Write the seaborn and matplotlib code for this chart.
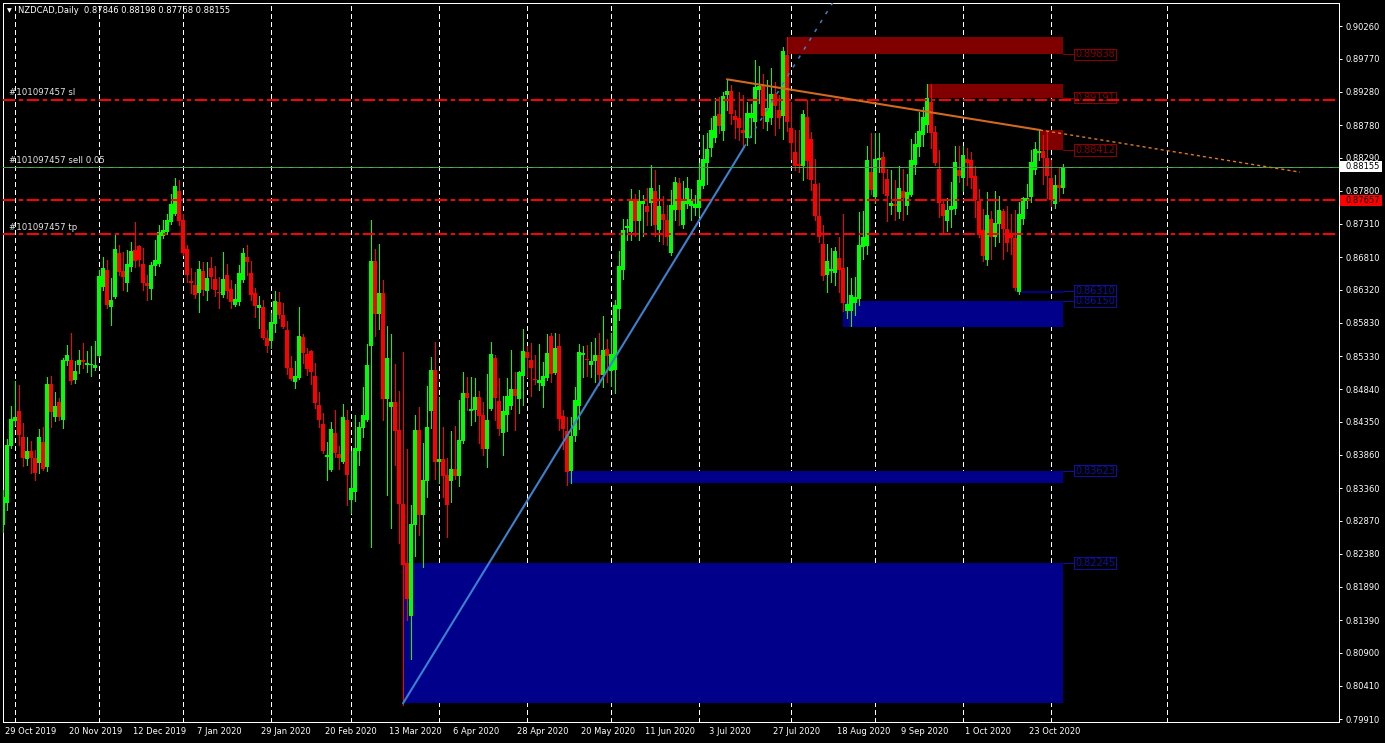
import numpy as np
import pandas as pd
import matplotlib
matplotlib.use("Agg")
import matplotlib.pyplot as plt
import matplotlib.transforms as mtransforms
from matplotlib.patches import Rectangle
import seaborn as sns

# ---------------- data ----------------
header_text = "NZDCAD,Daily  0.87846 0.88198 0.87768 0.88155"

opens = [0.8281,0.8314,0.8399,0.8436,0.8451,0.8413,0.8380,0.8391,0.8381,0.8373,
0.8405,0.8367,0.8491,0.8442,0.8465,0.8438,0.8526,0.8527,0.8497,0.8520,
0.8528,0.8520,0.8520,0.8515,0.8533,0.8636,0.8662,0.8606,0.8621,0.8687,
0.8660,0.8643,0.8666,0.8692,0.8698,0.8671,0.8642,0.8633,0.8668,0.8671,
0.8713,0.8719,0.8734,0.8745,0.8780,0.8737,0.8693,0.8645,0.8639,0.8627,
0.8660,0.8630,0.8665,0.8648,0.8629,0.8624,0.8654,0.8633,0.8609,0.8614,
0.8647,0.8681,0.8657,0.8627,0.8605,0.8606,0.8560,0.8556,0.8581,0.8614,
0.8595,0.8572,0.8515,0.8494,0.8500,0.8562,0.8536,0.8541,0.8503,0.8460,
0.8432,0.8382,0.8363,0.8418,0.8387,0.8375,0.8438,0.8319,0.8330,0.8391,
0.8426,0.8438,0.8548,0.8675,0.8596,0.8627,0.8469,0.8457,0.8465,0.8423,
0.8313,0.8224,0.8145,0.8281,0.8423,0.8296,0.8347,0.8451,0.8512,0.8375,
0.8380,0.8355,0.8347,0.8365,0.8354,0.8406,0.8478,0.8451,0.8453,0.8472,
0.8445,0.8394,0.8454,0.8530,0.8466,0.8418,0.8445,0.8459,0.8484,0.8469,
0.8503,0.8539,0.8527,0.8499,0.8493,0.8488,0.8500,0.8563,0.8508,0.8548,
0.8443,0.8421,0.8362,0.8414,0.8459,0.8535,0.8529,0.8520,0.8526,0.8535,
0.8505,0.8544,0.8511,0.8512,0.8603,0.8662,0.8724,0.8719,0.8766,0.8735,
0.8760,0.8758,0.8761,0.8780,0.8722,0.8746,0.8736,0.8687,0.8752,0.8792,
0.8729,0.8760,0.8757,0.8754,0.8754,0.8787,0.8821,0.8844,0.8859,0.8895,
0.8869,0.8923,0.8929,0.8892,0.8888,0.8871,0.8859,0.8889,0.8883,0.8930,
0.8937,0.8882,0.8888,0.8924,0.8901,0.8892,0.8983,0.8874,0.8838,0.8820,
0.8817,0.8890,0.8857,0.8790,0.8743,0.8700,0.8654,0.8660,0.8657,0.8679,
0.8664,0.8600,0.8600,0.8612,0.8618,0.8696,0.8697,0.8808,0.8771,0.8826,
0.8830,0.8798,0.8757,0.8760,0.8748,0.8780,0.8757,0.8774,0.8819,0.8845,
0.8863,0.8878,0.8912,0.8868,0.8813,0.8760,0.8735,0.8751,0.8753,0.8811,
0.8799,0.8827,0.8826,0.8802,0.8765,0.8721,0.8677,0.8738,0.8711,0.8730,
0.8750,0.8723,0.8717,0.8709,0.8629,0.8738,0.8765,0.8771,0.8811,0.8837,
0.8839,0.8829,0.8799,0.8760,0.8789,0.87846]

highs = [0.8333,0.8409,0.8459,0.8496,0.8490,0.8433,0.8412,0.8406,0.8393,0.8424,
0.8428,0.8502,0.8503,0.8480,0.8470,0.8531,0.8550,0.8568,0.8526,0.8542,
0.8553,0.8541,0.8548,0.8556,0.8662,0.8681,0.8677,0.8650,0.8717,0.8699,
0.8688,0.8692,0.8704,0.8733,0.8699,0.8695,0.8654,0.8674,0.8707,0.8729,
0.8736,0.8745,0.8775,0.8799,0.8796,0.8746,0.8699,0.8665,0.8659,0.8675,
0.8674,0.8674,0.8681,0.8668,0.8651,0.8688,0.8671,0.8647,0.8641,0.8669,
0.8695,0.8699,0.8675,0.8635,0.8623,0.8617,0.8572,0.8598,0.8630,0.8629,
0.8612,0.8586,0.8533,0.8526,0.8606,0.8566,0.8545,0.8542,0.8523,0.8480,
0.8448,0.8405,0.8435,0.8452,0.8399,0.8462,0.8453,0.8391,0.8445,0.8435,
0.8487,0.8551,0.8736,0.8693,0.8700,0.8647,0.8578,0.8566,0.8521,0.8481,
0.8539,0.8394,0.8311,0.8445,0.8457,0.8403,0.8488,0.8532,0.8554,0.8472,
0.8427,0.8381,0.8421,0.8429,0.8468,0.8509,0.8502,0.8502,0.8500,0.8481,
0.8465,0.8506,0.8554,0.8535,0.8500,0.8473,0.8500,0.8542,0.8509,0.8511,
0.8574,0.8548,0.8553,0.8535,0.8551,0.8524,0.8566,0.8568,0.8568,0.8566,
0.8453,0.8442,0.8442,0.8487,0.8551,0.8548,0.8550,0.8554,0.8560,0.8568,
0.8593,0.8559,0.8568,0.8617,0.8690,0.8738,0.8738,0.8783,0.8775,0.8781,
0.8774,0.8784,0.8819,0.8811,0.8789,0.8772,0.8759,0.8781,0.8800,0.8799,
0.8795,0.8800,0.8783,0.8774,0.8821,0.8864,0.8867,0.8889,0.8918,0.8920,
0.8928,0.8945,0.8938,0.8901,0.8928,0.8923,0.8912,0.8910,0.8975,0.8967,
0.8954,0.8945,0.8964,0.8942,0.8923,0.8995,0.9010,0.8912,0.8871,0.8871,
0.8901,0.8916,0.8868,0.8827,0.8792,0.8729,0.8700,0.8695,0.8696,0.8711,
0.8745,0.8666,0.8650,0.8651,0.8748,0.8750,0.8847,0.8866,0.8866,0.8866,
0.8838,0.8813,0.8811,0.8796,0.8817,0.8813,0.8805,0.8857,0.8866,0.8898,
0.8905,0.8939,0.8939,0.8877,0.8841,0.8768,0.8769,0.8793,0.8847,0.8847,
0.8847,0.8844,0.8838,0.8817,0.8783,0.8753,0.8778,0.8750,0.8780,0.8772,
0.8753,0.8757,0.8746,0.8751,0.8763,0.8771,0.8790,0.8841,0.8853,0.8871,
0.8863,0.8868,0.8826,0.8804,0.8814,0.88198]

lows = [0.8270,0.8303,0.8396,0.8430,0.8400,0.8369,0.8370,0.8359,0.8348,0.8359,
0.8363,0.8362,0.8427,0.8436,0.8438,0.8426,0.8520,0.8491,0.8493,0.8508,
0.8515,0.8509,0.8503,0.8512,0.8532,0.8632,0.8605,0.8580,0.8620,0.8654,
0.8632,0.8630,0.8660,0.8666,0.8668,0.8632,0.8617,0.8619,0.8654,0.8668,
0.8710,0.8715,0.8730,0.8744,0.8729,0.8684,0.8644,0.8627,0.8620,0.8599,
0.8624,0.8617,0.8635,0.8623,0.8605,0.8621,0.8620,0.8605,0.8608,0.8610,
0.8644,0.8654,0.8617,0.8592,0.8575,0.8558,0.8539,0.8545,0.8569,0.8590,
0.8575,0.8507,0.8497,0.8485,0.8499,0.8523,0.8505,0.8491,0.8456,0.8427,
0.8389,0.8348,0.8362,0.8383,0.8365,0.8374,0.8311,0.8299,0.8317,0.8370,
0.8412,0.8436,0.8248,0.8563,0.8573,0.8438,0.8326,0.8276,0.8370,0.8254,
0.8012,0.8139,0.8081,0.8235,0.8266,0.8218,0.8323,0.8426,0.8350,0.8344,
0.8323,0.8263,0.8315,0.8350,0.8339,0.8403,0.8453,0.8430,0.8436,0.8403,
0.8385,0.8367,0.8453,0.8438,0.8415,0.8385,0.8421,0.8454,0.8423,0.8448,
0.8460,0.8502,0.8474,0.8491,0.8482,0.8457,0.8497,0.8494,0.8506,0.8423,
0.8395,0.8341,0.8344,0.8406,0.8424,0.8502,0.8503,0.8502,0.8494,0.8490,
0.8487,0.8494,0.8488,0.8478,0.8587,0.8648,0.8706,0.8706,0.8712,0.8706,
0.8712,0.8729,0.8729,0.8712,0.8705,0.8701,0.8699,0.8684,0.8737,0.8729,
0.8724,0.8754,0.8737,0.8744,0.8743,0.8784,0.8790,0.8832,0.8853,0.8867,
0.8856,0.8901,0.8879,0.8859,0.8856,0.8844,0.8848,0.8860,0.8852,0.8911,
0.8874,0.8871,0.8879,0.8864,0.8874,0.8857,0.8869,0.8828,0.8811,0.8808,
0.8796,0.8799,0.8781,0.8736,0.8703,0.8647,0.8629,0.8644,0.8639,0.8629,
0.8600,0.8590,0.8578,0.8594,0.8609,0.8678,0.8686,0.8775,0.8762,0.8808,
0.8777,0.8735,0.8746,0.8737,0.8739,0.8736,0.8746,0.8772,0.8805,0.8832,
0.8847,0.8868,0.8844,0.8819,0.8741,0.8718,0.8720,0.8726,0.8746,0.8793,
0.8780,0.8789,0.8784,0.8741,0.8711,0.8675,0.8669,0.8678,0.8697,0.8704,
0.8678,0.8690,0.8686,0.8632,0.8626,0.8730,0.8754,0.8763,0.8805,0.8826,
0.8790,0.8769,0.8757,0.8754,0.8765,0.87768]

closes = [0.8323,0.8400,0.8439,0.8442,0.8415,0.8381,0.8391,0.8381,0.8359,0.8412,
0.8365,0.8491,0.8449,0.8459,0.8442,0.8528,0.8535,0.8496,0.8511,0.8528,
0.8524,0.8523,0.8521,0.8520,0.8653,0.8665,0.8609,0.8617,0.8693,0.8659,
0.8651,0.8671,0.8690,0.8675,0.8677,0.8642,0.8638,0.8669,0.8677,0.8718,
0.8721,0.8736,0.8760,0.8787,0.8735,0.8687,0.8654,0.8642,0.8624,0.8663,
0.8632,0.8650,0.8651,0.8632,0.8627,0.8648,0.8630,0.8614,0.8618,0.8657,
0.8687,0.8674,0.8624,0.8608,0.8609,0.8560,0.8548,0.8584,0.8615,0.8595,
0.8577,0.8515,0.8499,0.8503,0.8563,0.8538,0.8514,0.8509,0.8463,0.8438,
0.8391,0.8385,0.8424,0.8389,0.8381,0.8442,0.8356,0.8336,0.8396,0.8427,
0.8445,0.8520,0.8675,0.8596,0.8627,0.8469,0.8530,0.8465,0.8421,0.8312,
0.8222,0.8170,0.8282,0.8423,0.8296,0.8348,0.8427,0.8512,0.8375,0.8380,
0.8354,0.8311,0.8365,0.8354,0.8408,0.8478,0.8471,0.8454,0.8472,0.8444,
0.8394,0.8438,0.8536,0.8471,0.8424,0.8451,0.8473,0.8484,0.8473,0.8509,
0.8541,0.8530,0.8515,0.8497,0.8497,0.8503,0.8538,0.8506,0.8545,0.8439,
0.8424,0.8360,0.8414,0.8468,0.8539,0.8538,0.8527,0.8526,0.8535,0.8505,
0.8542,0.8533,0.8536,0.8609,0.8668,0.8721,0.8727,0.8766,0.8735,0.8765,
0.8764,0.8749,0.8784,0.8729,0.8757,0.8737,0.8711,0.8759,0.8793,0.8751,
0.8766,0.8784,0.8768,0.8760,0.8796,0.8827,0.8842,0.8871,0.8892,0.8876,
0.8922,0.8929,0.8894,0.8886,0.8874,0.8866,0.8896,0.8896,0.8935,0.8937,
0.8892,0.8904,0.8924,0.8906,0.8888,0.8989,0.8883,0.8852,0.8817,0.8817,
0.8895,0.8824,0.8796,0.8742,0.8711,0.8653,0.8675,0.8663,0.8690,0.8662,
0.8612,0.8611,0.8624,0.8621,0.8699,0.8711,0.8826,0.8781,0.8827,0.8829,
0.8807,0.8772,0.8762,0.8757,0.8784,0.8769,0.8778,0.8826,0.8850,0.8869,
0.8890,0.8918,0.8866,0.8822,0.8762,0.8742,0.8751,0.8757,0.8823,0.8802,
0.8833,0.8822,0.8799,0.8766,0.8714,0.8683,0.8744,0.8711,0.8732,0.8751,
0.8723,0.8702,0.8709,0.8635,0.8745,0.8769,0.8769,0.8823,0.8842,0.8840,
0.8829,0.8802,0.8766,0.8789,0.87846,0.88155]

date_labels = ["29 Oct 2019", "20 Nov 2019", "12 Dec 2019", "7 Jan 2020", "29 Jan 2020",
               "20 Feb 2020", "13 Mar 2020", "6 Apr 2020", "28 Apr 2020", "20 May 2020",
               "11 Jun 2020", "3 Jul 2020", "27 Jul 2020", "18 Aug 2020", "9 Sep 2020",
               "1 Oct 2020", "23 Oct 2020"]
date_label_idx = [0, 16, 32, 48, 64, 80, 96, 112, 128, 144, 160, 176, 192, 208, 224, 240, 256]
month_start_idx = [3, 24, 45, 67, 87, 109, 131, 152, 174, 197, 218, 240, 262, 291]

price_ticks = [0.79910, 0.80410, 0.80900, 0.81390, 0.81890, 0.82380, 0.82870, 0.83360,
               0.83860, 0.84350, 0.84840, 0.85330, 0.85830, 0.86320, 0.86810, 0.87310,
               0.87800, 0.88290, 0.88780, 0.89280, 0.89770, 0.90260]

order_label = "#101097457"
sl_price = 0.8916
sell_price = 0.88155
tp_price = 0.8715
hline_price = 0.87657
bid_price = 0.88155

zone_end_idx = 265
red_zone_start = [196, 231, 259]
red_zone_top = [0.9010, 0.8939, 0.88707]
red_zone_bottom = [0.89838, 0.89191, 0.88412]
blue_zone_start = [210, 254, 141, 100]
blue_zone_top = [0.86150, 0.86310, 0.83623, 0.82245]
blue_zone_bottom = [0.85760, 0.86275, 0.83432, 0.80147]

blue_trend_idx = [100, 185.25]
blue_trend_price = [0.80147, 0.88449]
blue_ray_end_idx = 215
orange_trend_idx = [181, 259.25]
orange_trend_price = [0.89464, 0.88707]
orange_ray_end_idx = 324.25

# ---------------- style ----------------
sns.set_style("dark")
plt.rcParams["font.family"] = ["DejaVu Sans"]
plt.rcParams["lines.scale_dashes"] = False

W, H = 1385, 743
fig = plt.figure(figsize=(W / 100, H / 100), dpi=100, facecolor="black")
ax_l, ax_r, ax_t, ax_b = 2.5, 1339.3, 2.7, 721.7
ax = fig.add_axes([ax_l / W, (H - ax_b) / H, (ax_r - ax_l) / W, (ax_b - ax_t) / H])
ax.set_facecolor("black")
PX = 0.72  # one pixel in points

ylo, yhi = 0.79873, 0.90608
ax.set_xlim(-0.125, 334.075)
ax.set_ylim(ylo, yhi)
ppx = (yhi - ylo) / (ax_b - ax_t)  # price per pixel

df = pd.DataFrame({"o": opens, "h": highs, "l": lows, "c": closes})
df["i"] = np.arange(len(df))
df["up"] = df["c"] >= df["o"]
df["col"] = np.where(df["up"], "#00ff00", "#ff0000")

# month separators
for m in month_start_idx:
    ax.axvline(m, color="white", lw=PX, ls=(0, (2.9, 2.2)), zorder=1, antialiased=False)

# zones
for s, t, b in zip(red_zone_start, red_zone_top, red_zone_bottom):
    ax.add_patch(Rectangle((s, b), zone_end_idx - s, t - b, facecolor="#800000",
                           edgecolor="none", zorder=1.5, antialiased=False))
for s, t, b in zip(blue_zone_start, blue_zone_top, blue_zone_bottom):
    ax.add_patch(Rectangle((s, b), zone_end_idx - s, t - b, facecolor="#00008b",
                           edgecolor="none", zorder=1.5, antialiased=False))

# zone labels
def zone_label(price, color):
    x0, x1 = (1074.3 - 3) / 4, (1115.7 - 3) / 4
    hh = 11.5 * ppx
    ax.plot([zone_end_idx, x0], [price, price], color=color, lw=PX, zorder=2)
    ax.add_patch(Rectangle((x0, price - hh / 2), x1 - x0, hh, facecolor="none",
                           edgecolor=color, lw=PX, zorder=2, antialiased=False))
    ax.text((x0 + x1) / 2, price, f"{price:.5f}", color=color, fontsize=7,
            ha="center", va="center", zorder=2)

for p in red_zone_bottom:
    zone_label(p, "#8b0000")
for p in blue_zone_top:
    zone_label(p, "#1010a0")

# candles
ax.vlines(df["i"], df["l"], df["h"], colors=df["col"], lw=PX, zorder=3, antialiased=False)
body_bottom = np.minimum(df["o"], df["c"])
body_h = np.maximum((df["c"] - df["o"]).abs(), 0.00012)
ax.bar(df["i"], body_h, bottom=body_bottom, width=0.8, color=df["col"],
       linewidth=0, zorder=4, antialiased=False)

# horizontal lines
dashdot = (0, (8, 2.9, 2.2, 2.9))
for p in [sl_price, hline_price, tp_price]:
    ax.axhline(p, color="#ff0000", lw=1.4, ls=dashdot, zorder=5, antialiased=False)
ax.axhline(bid_price, color="#8a8a8a", lw=PX, zorder=5, antialiased=False)
ax.axhline(sell_price, color="#20b020", lw=PX, ls=(0, (4, 3)), zorder=5, antialiased=False)

# trend lines
blue_slope = (blue_trend_price[1] - blue_trend_price[0]) / (blue_trend_idx[1] - blue_trend_idx[0])
sns.lineplot(x=blue_trend_idx, y=blue_trend_price, ax=ax, color="#3a82d0", lw=1.5,
             estimator=None, sort=False, zorder=6)
sns.lineplot(x=[blue_trend_idx[1], blue_ray_end_idx],
             y=[blue_trend_price[1], blue_trend_price[1] + blue_slope * (blue_ray_end_idx - blue_trend_idx[1])],
             ax=ax, color="#3a82d0", lw=1.1, ls=(0, (2.5, 5)), estimator=None, sort=False, zorder=6)
orange_slope = (orange_trend_price[1] - orange_trend_price[0]) / (orange_trend_idx[1] - orange_trend_idx[0])
sns.lineplot(x=orange_trend_idx, y=orange_trend_price, ax=ax, color="#d2691e", lw=1.5,
             estimator=None, sort=False, zorder=6)
sns.lineplot(x=[orange_trend_idx[1], orange_ray_end_idx],
             y=[orange_trend_price[1], orange_trend_price[1] + orange_slope * (orange_ray_end_idx - orange_trend_idx[1])],
             ax=ax, color="#e07820", lw=1.0, ls=(0, (2.2, 2.2)), estimator=None, sort=False, zorder=6)

# order labels on the left
for txt, p in [(f"{order_label} sl", sl_price), (f"{order_label} sell 0.05", sell_price),
               (f"{order_label} tp", tp_price)]:
    ax.annotate(txt, xy=(0, p), xycoords=("axes fraction", "data"), xytext=(4.7, 1.6),
                textcoords="offset points", ha="left", va="bottom", color="#e6e6e6",
                fontsize=6.2, zorder=7)

# axes styling
for sp in ax.spines.values():
    sp.set_color("white")
    sp.set_linewidth(PX)
    sp.set_visible(True)
ax.grid(False)
ax.yaxis.tick_right()
ax.set_yticks(price_ticks)
ax.set_yticklabels([f"{v:.5f}" for v in price_ticks])
ax.tick_params(axis="y", colors="white", labelcolor="white", labelsize=6, length=2.2,
               width=PX, pad=2, direction="out", right=True, left=False)
ax.set_xticks(date_label_idx)
ax.set_xticklabels(date_labels)
ax.set_xticks(month_start_idx, minor=True)
ax.tick_params(axis="x", which="major", colors="white", labelcolor="white", labelsize=6,
               length=2.2, width=PX, pad=1.5, direction="out")
ax.tick_params(axis="x", which="minor", colors="white", length=2.2, width=PX, direction="in")
offset = mtransforms.ScaledTranslation(2 / 100, 0, fig.dpi_scale_trans)
for lab in ax.get_xticklabels():
    lab.set_ha("left")
    lab.set_transform(lab.get_transform() + offset)
ax.set_xlabel("")
ax.set_ylabel("")

# price tags on the right scale
blend = mtransforms.blended_transform_factory(fig.transFigure, ax.transData)
for p, fc, tc in [(bid_price, "white", "black"), (hline_price, "#ff0000", "black")]:
    hh = 11 * ppx
    ax.add_patch(Rectangle((1340 / W, p - hh / 2), 42 / W, hh, transform=blend,
                           facecolor=fc, edgecolor="none", clip_on=False, zorder=8))
    ax.text(1345 / W, p, f"{p:.5f}", transform=blend, color=tc, fontsize=6,
            ha="left", va="center", zorder=9, clip_on=False)

# header
fig.text(6.5 / W, 1 - 11 / H, "\u25BC", color="white", fontsize=4.5, ha="left", va="center")
fig.text(18 / W, 1 - 10.5 / H, header_text, color="white", fontsize=6, ha="left", va="center")

fig.savefig("out.png", dpi=100, facecolor="black")
